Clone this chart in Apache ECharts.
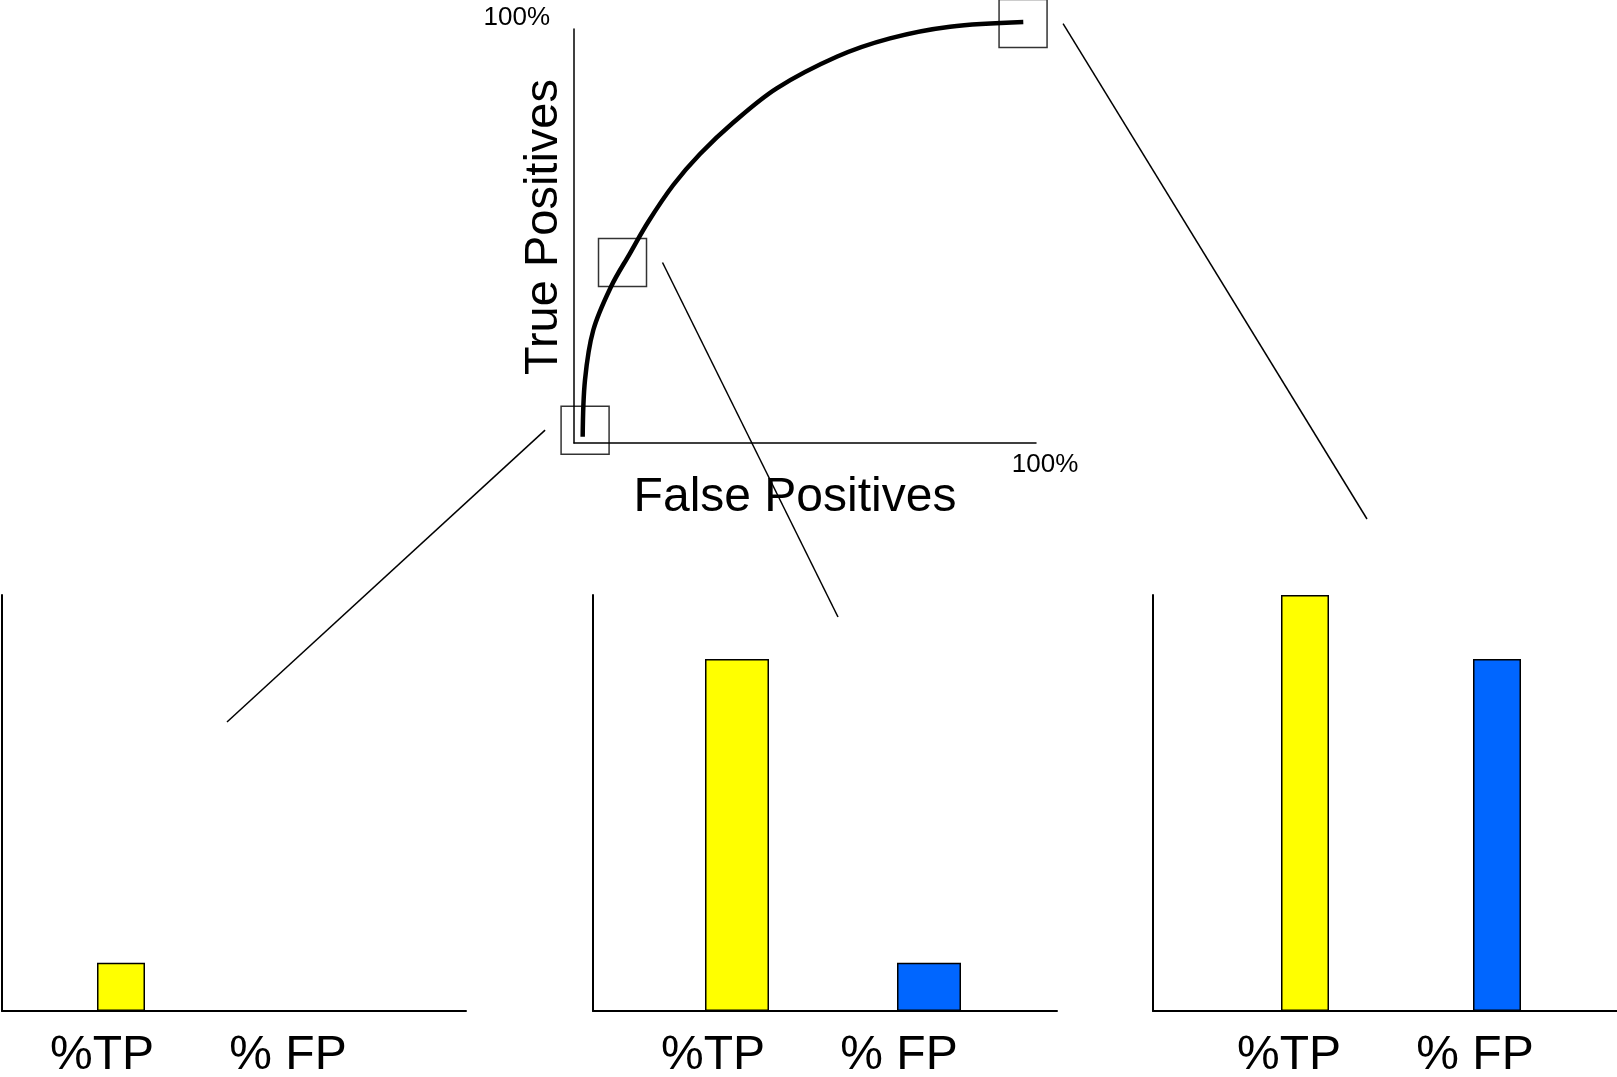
<!DOCTYPE html>
<html>
<head>
<meta charset="utf-8">
<script src="https://cdn.jsdelivr.net/npm/echarts@6/dist/echarts.min.js"></script>
<style>
html,body{margin:0;padding:0;background:#fff;}
#chart{width:1617px;height:1077px;}
</style>
</head>
<body>
<div id="chart"></div>
<script>
// ---- data ----
const rocFalsePositive = [1.88, 2.38, 4.18, 8.01, 12.12, 16.08, 21.49, 27.27, 34.48, 43.87, 56.86, 68.40, 81.39, 97.25];
const rocTruePositive  = [1.52, 15.22, 27.29, 37.75, 45.82, 53.45, 62.32, 69.81, 77.42, 85.68, 93.31, 97.75, 100.56, 101.69];
const boxFalsePositive = [2.4, 10.5, 97.2];
const boxTruePositive  = [3.1, 43.6, 101.3];
const rocMaxLabel = '100%';
const rocXName = 'False Positives';
const rocYName = 'True Positives';
const barCategories = ['%TP', '% FP'];
const panel1Values = [11.6, 0];
const panel2Values = [84.6, 11.6];
const panel3Values = [100, 84.6];
const barColors = ['#FFFF00', '#0066FF'];

// ---- layout ----
const FONT = 'Liberation Sans, Arial, sans-serif';
const panels = [
  {values: panel1Values, axisLeft: 2,    barLeft: 25,   barWidth: 48, shift: 22},
  {values: panel2Values, axisLeft: 593,  barLeft: 641,  barWidth: 64, shift: 27},
  {values: panel3Values, axisLeft: 1153, barLeft: 1209, barWidth: 48, shift: 19}
];
const labelShiftAdjust = [-3, 3];
const panelTop = 595, panelHeight = 416, panelAxisWidth = 464, panelBarGridWidth = 384;

const chart = echarts.init(document.getElementById('chart'), null, {renderer: 'canvas'});

const grid = [{left: 574, top: 29, width: 462, height: 414, outerBoundsMode: 'none', containLabel: false}];
const xAxis = [{
  gridIndex: 0, type: 'value', min: 0, max: 100, interval: 100,
  axisLine: {show: true, onZero: false, lineStyle: {color: '#000', width: 1.5}},
  axisTick: {show: false}, splitLine: {show: false},
  axisLabel: {formatter: v => v === 100 ? rocMaxLabel : '', fontSize: 26, color: '#000', fontFamily: FONT, margin: 9, padding: [0, 0, 0, 18]},
  name: rocXName, nameLocation: 'middle', nameGap: 31, nameMoveOverlap: false,
  nameTextStyle: {fontSize: 48, color: '#000', fontFamily: FONT, padding: [0, 20, 0, 0]}
}];
const yAxis = [{
  gridIndex: 0, type: 'value', min: 0, max: 100, interval: 100,
  axisLine: {show: true, onZero: false, lineStyle: {color: '#000', width: 1.5}},
  axisTick: {show: false}, splitLine: {show: false},
  axisLabel: {formatter: v => v === 100 ? rocMaxLabel : '', fontSize: 26, lineHeight: 23, color: '#000', fontFamily: FONT, margin: 24, verticalAlign: 'bottom'},
  name: rocYName, nameLocation: 'middle', nameGap: 6, nameRotate: 90, nameMoveOverlap: false,
  nameTextStyle: {fontSize: 47, color: '#000', fontFamily: FONT, padding: [0, 0, 0, 18]}
}];
const rocData = rocFalsePositive.map((x, i) => [x, rocTruePositive[i]]);
const series = [
  {
    // ROC curve: one smooth spline through all points, mapped through the axes
    type: 'custom', xAxisIndex: 0, yAxisIndex: 0, clip: false, z: 2,
    data: rocData,
    renderItem: (params, api) => {
      if (params.dataIndex !== 0) return null;
      const pts = rocData.map(d => api.coord(d));
      return {
        type: 'polyline',
        shape: {points: pts, smooth: 0.35},
        style: {stroke: '#000', lineWidth: 4.5, fill: 'none', lineCap: 'butt', lineJoin: 'round'}
      };
    }
  },
  {
    type: 'scatter', xAxisIndex: 0, yAxisIndex: 0, symbol: 'rect', symbolSize: 48, clip: false,
    itemStyle: {color: 'rgba(0,0,0,0)', borderColor: '#000', borderWidth: 1.5},
    data: boxFalsePositive.map((x, i) => [x, boxTruePositive[i]]),
    z: 3
  }
];

panels.forEach((p, k) => {
  const ga = grid.length;
  grid.push({left: p.axisLeft, top: panelTop, width: panelAxisWidth, height: panelHeight, outerBoundsMode: 'none', containLabel: false});
  xAxis.push({gridIndex: ga, type: 'value', min: 0, max: 1,
    axisLine: {show: true, onZero: false, lineStyle: {color: '#000', width: 2}},
    axisTick: {show: false}, axisLabel: {show: false}, splitLine: {show: false}});
  yAxis.push({gridIndex: ga, type: 'value', min: 0, max: 100,
    axisLine: {show: true, onZero: false, lineStyle: {color: '#000', width: 2}},
    axisTick: {show: false}, axisLabel: {show: false}, splitLine: {show: false}});
  const gb = grid.length;
  grid.push({left: p.barLeft, top: panelTop, width: panelBarGridWidth, height: panelHeight, outerBoundsMode: 'none', containLabel: false});
  const rich = {};
  barCategories.forEach((c, i) => {
    rich['c' + i] = {fontSize: 48, color: '#000', fontFamily: FONT, padding: [0, 2 * (p.shift + labelShiftAdjust[i]), 0, 0]};
  });
  xAxis.push({gridIndex: gb, type: 'category', data: barCategories,
    axisLine: {show: false}, axisTick: {show: false}, splitLine: {show: false},
    axisLabel: {fontSize: 48, color: '#000', fontFamily: FONT, margin: 21, interval: 0, hideOverlap: false,
      formatter: (v, i) => '{c' + i + '|' + v + '}', rich}});
  yAxis.push({gridIndex: gb, type: 'value', min: 0, max: 100, show: false});
  series.push({
    type: 'bar', xAxisIndex: gb, yAxisIndex: gb, barWidth: p.barWidth,
    data: p.values.map((v, i) => ({value: v, itemStyle: {color: barColors[i], borderColor: '#000', borderWidth: v === 0 ? 0 : 1.5}}))
  });
});

chart.setOption({
  animation: false,
  backgroundColor: '#fff',
  grid, xAxis, yAxis, series
});

// connector lines from the boxes on the ROC curve to the bar panels
const boxPx = boxFalsePositive.map((x, i) => chart.convertToPixel({xAxisIndex: 0, yAxisIndex: 0}, [x, boxTruePositive[i]]));
const connectorEnds = [[227, 722], [838, 617], [1367, 519]];
const connectorStartDx = [-40, 40, 40];
chart.setOption({
  graphic: boxPx.map((b, i) => ({
    type: 'line', silent: true, z: 10,
    shape: {x1: b[0] + connectorStartDx[i], y1: b[1], x2: connectorEnds[i][0], y2: connectorEnds[i][1]},
    style: {stroke: '#000', lineWidth: 1.5}
  }))
});
</script>
</body>
</html>
